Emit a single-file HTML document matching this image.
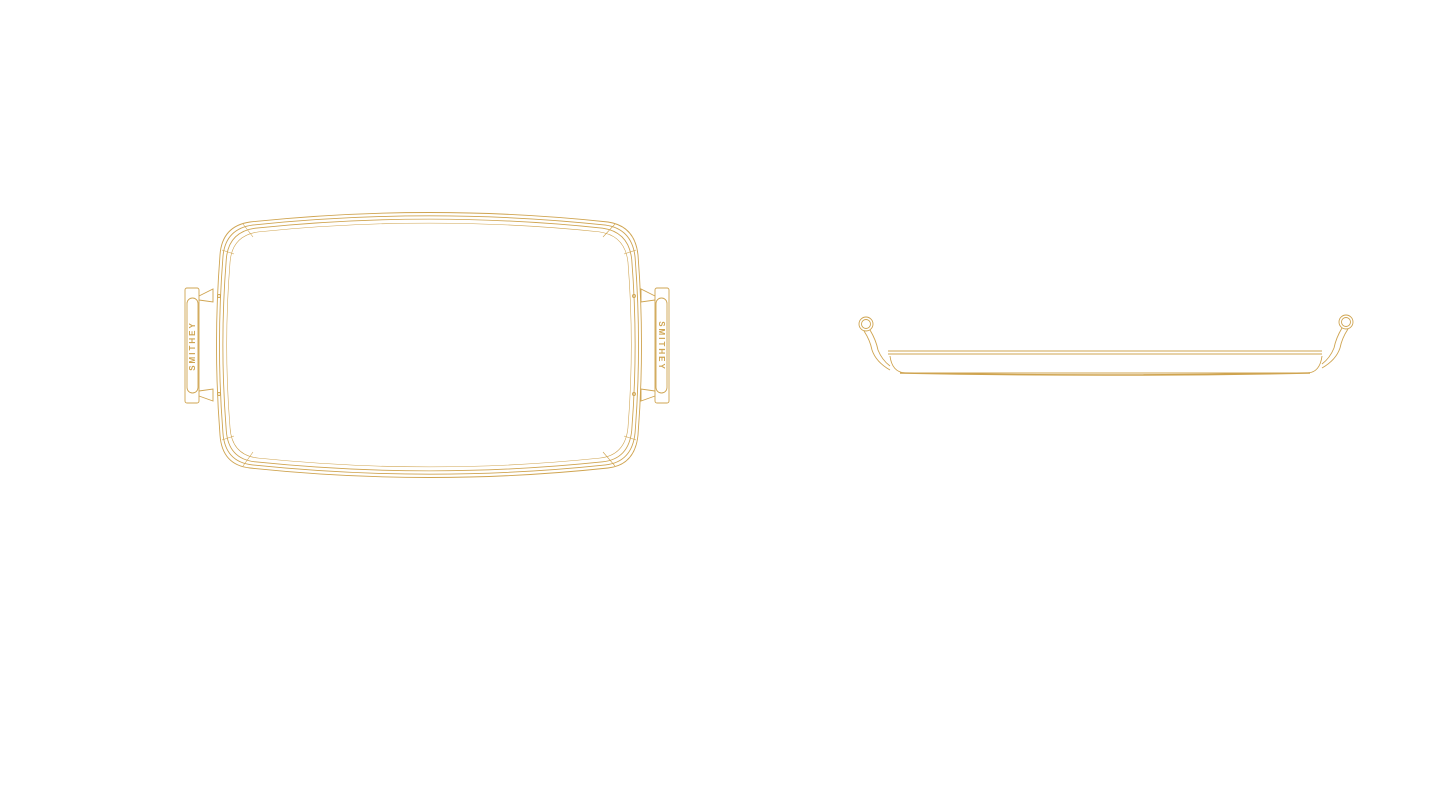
<!DOCTYPE html>
<html><head><style>body{margin:0;background:#fff}svg{display:block}</style></head><body>
<svg width="1440" height="805" viewBox="0 0 1440 805" xmlns="http://www.w3.org/2000/svg">
<defs>
<path id="tray" d="M250,222 Q430,203 608,222 Q635,226 638,255 Q645,345 638,435 Q635,465 608,468 Q430,487 250,468 Q222,465 220,435 Q213,345 220,255 Q222,226 250,222 Z"/>
</defs>
<g fill="none" stroke="#cfa450" stroke-width="0.9">
<use href="#tray"/>
<use href="#tray" transform="translate(429,345) scale(0.986,0.975) translate(-429,-345)"/>
<use href="#tray" transform="translate(429,345) scale(0.97,0.95) translate(-429,-345)"/>
<use href="#tray" transform="translate(429,345) scale(0.952,0.92) translate(-429,-345)" stroke-width="0.6"/>
<path d="M243,224 L253,237 M615,224 L603,237 M243,466 L253,452 M615,466 L603,452 M222,250 L234,254 M636,250 L624,254 M222,440 L234,436 M636,440 L624,436" stroke-width="0.6"/>
<rect x="185" y="288" width="14" height="115" rx="2"/>
<rect x="187" y="298" width="11" height="95" rx="5.5"/>
<path d="M199,296 L213,289 L213,302 L199,300 M199,391 L213,389 L213,401 L199,396"/>
<circle cx="219" cy="296" r="1.5"/><circle cx="219" cy="394" r="1.5"/>
<rect x="655" y="288" width="14" height="115" rx="2"/>
<rect x="656" y="298" width="11" height="95" rx="5.5"/>
<path d="M655,296 L641,289 L641,302 L655,300 M655,391 L641,389 L641,401 L655,396"/>
<circle cx="634" cy="296" r="1.5"/><circle cx="634" cy="394" r="1.5"/>
<path d="M888,351 L1322,351 M888,354 L1322,354"/>
<path d="M890,356 Q892,372 905,373 L1308,373 Q1320,372 1322,356"/>
<path d="M900,373 Q1105,377 1310,373" stroke-width="1.6"/>
<circle cx="866" cy="324" r="7"/><circle cx="866" cy="324" r="4.5"/>
<path d="M870,330 Q876,340 878,350 Q882,360 890,366 M864,331 Q870,340 872,350 Q876,362 890,370"/>
<circle cx="1346" cy="322" r="7"/><circle cx="1346" cy="322" r="4.5"/>
<path d="M1342,328 Q1336,338 1334,348 Q1330,358 1322,364 M1348,329 Q1342,338 1340,348 Q1336,360 1322,368"/>
</g>
<g fill="#cfa450" font-family="Liberation Sans, sans-serif" font-size="8" font-weight="bold" letter-spacing="2">
<text transform="translate(195,346) rotate(-90)" text-anchor="middle">SMITHEY</text>
<text transform="translate(659,346) rotate(90)" text-anchor="middle">SMITHEY</text>
</g>
</svg>
</body></html>
